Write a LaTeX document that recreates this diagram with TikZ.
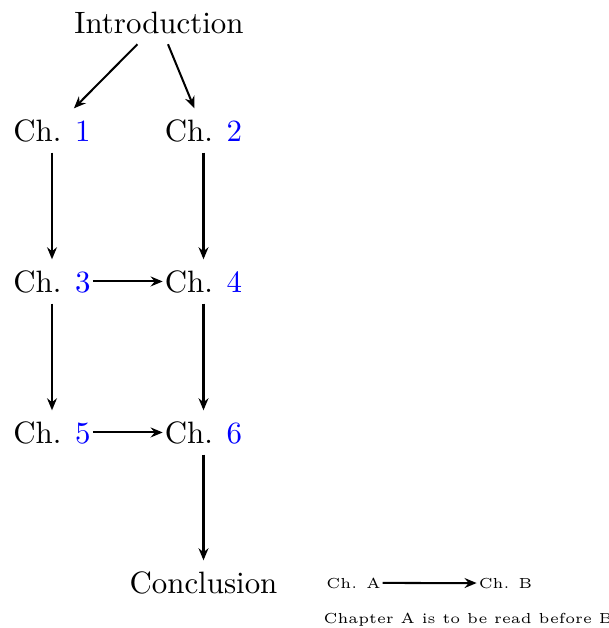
\documentclass[tikz,border=0pt]{standalone}
\usetikzlibrary{arrows.meta}
\begin{document}
\begin{tikzpicture}[x=0.3236pt,y=-0.3236pt,
  chap/.style={inner xsep=0.5pt,inner ysep=3.33pt,anchor=base},
  big/.style={inner sep=3.33pt,anchor=base},
  leg/.style={font=\fontsize{4.7}{5.6}\selectfont,inner xsep=0.5pt,inner ysep=2pt,anchor=base},
  dep/.style={-{Stealth[length=3.9pt,width=3.2pt,inset=1.3pt]},line width=0.65pt}]
\useasboundingbox (0,0) rectangle (609,628);
\node[big]  (intro) at (159,33) {Introduction};
\node[chap] (c1) at (52,141) {Ch. \textcolor{blue}{1}};
\node[chap] (c2) at (203.5,141) {Ch. \textcolor{blue}{2}};
\node[chap] (c3) at (52,292) {Ch. \textcolor{blue}{3}};
\node[chap] (c4) at (203.5,292) {Ch. \textcolor{blue}{4}};
\node[chap] (c5) at (52,443) {Ch. \textcolor{blue}{5}};
\node[chap] (c6) at (203.5,443) {Ch. \textcolor{blue}{6}};
\node[big]  (concl) at (203.5,593) {Conclusion};
\node[leg]  (la) at (353.5,588) {Ch. A};
\node[leg]  (lb) at (505.5,588) {Ch. B};
\node[leg]  (lt) at (468,623) {Chapter A is to be read before B};
\draw[dep] (intro) -- (c1);
\draw[dep] (intro) -- (c2);
\draw[dep] (c1) -- (c3);
\draw[dep] (c2) -- (c4);
\draw[dep] (c3) -- (c4);
\draw[dep] (c3) -- (c5);
\draw[dep] (c4) -- (c6);
\draw[dep] (c5) -- (c6);
\draw[dep] (c6) -- (concl);
\draw[dep] (la) -- (lb);
\end{tikzpicture}
\end{document}
